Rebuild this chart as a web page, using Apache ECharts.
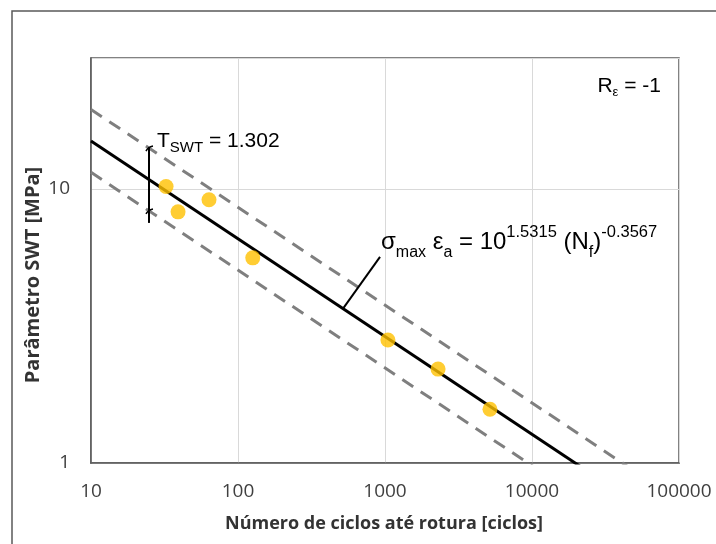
<!DOCTYPE html>
<html>
<head>
<meta charset="utf-8">
<script src="https://cdn.jsdelivr.net/npm/echarts@6/dist/echarts.min.js"></script>
<style>
  html, body { margin: 0; padding: 0; background: #fff; }
  #chart { width: 716px; height: 544px; }
</style>
</head>
<body>
<div id="chart"></div>
<script>
// Test results: cycles to failure and SWT parameter
const cycles = [32.4, 39.1, 63.5, 126, 1047, 2296, 5176];
const swt = [10.2, 8.24, 9.12, 5.60, 2.81, 2.20, 1.57];

// Power-law fit  SWT = 10^logA * Nf^expB, with scatter band factor T
const logA = 1.5315;
const expB = -0.3567;
const scatterT = 1.302;

// Axis ranges
const xRange = [10, 100000];
const yRange = [1, 30];

// Scatter-bar position (cycles) and its extent (MPa)
const barCycles = [24.8];
const barSpan = [14.2, 7.51];

// Leader line of the equation label: start cycles on the fit line, end point
const leaderStart = [518];
const leaderEnd = [925, 5.65];

const fit = n => Math.pow(10, logA) * Math.pow(n, expB);
const lineEnds = xRange;

const fitLine = lineEnds.map(n => [n, fit(n)]);
const upperBand = lineEnds.map(n => [n, fit(n) * scatterT]);
const lowerBand = lineEnds.map(n => [n, fit(n) / scatterT]);
const points = cycles.map((c, i) => [c, swt[i]]);

const AX = '#595959';
const LABEL_FONT = 'Open Sans';
const TEXT_FONT = 'Liberation Sans';

const chart = echarts.init(document.getElementById('chart'), null, { renderer: 'canvas' });

const option = {
  animation: false,
  backgroundColor: '#fff',
  grid: {
    left: 91, right: 37, top: 58, bottom: 81,
    show: true, borderColor: AX, borderWidth: 1.5
  },
  xAxis: {
    type: 'log', logBase: 10, min: xRange[0], max: xRange[1],
    axisLine: { show: true, lineStyle: { color: AX, width: 1.5 } },
    axisTick: { show: false },
    splitLine: { show: true, lineStyle: { color: '#d9d9d9', width: 1 } },
    axisLabel: {
      margin: 19, color: '#404040', fontFamily: LABEL_FONT, fontSize: 19,
      formatter: v => String(Math.round(v))
    }
  },
  yAxis: {
    type: 'log', logBase: 10, min: yRange[0], max: yRange[1],
    axisLine: { show: true, lineStyle: { color: AX, width: 1.5 } },
    axisTick: { show: false },
    splitLine: { show: true, lineStyle: { color: '#d9d9d9', width: 1 } },
    axisLabel: {
      margin: 21, color: '#404040', fontFamily: LABEL_FONT, fontSize: 19,
      showMaxLabel: false,
      formatter: v => {
        const l = Math.log10(v);
        return Math.abs(l - Math.round(l)) < 1e-6 ? String(Math.round(v)) : '';
      }
    }
  },
  series: [
    {
      type: 'line', data: upperBand, symbol: 'none', clip: true, z: 2,
      lineStyle: { color: '#7f7f7f', width: 3, type: [13, 9] }
    },
    {
      type: 'line', data: lowerBand, symbol: 'none', clip: true, z: 2,
      lineStyle: { color: '#7f7f7f', width: 3, type: [13, 9] }
    },
    {
      type: 'line', data: fitLine, symbol: 'none', clip: true, z: 3,
      lineStyle: { color: '#000', width: 3 }
    },
    {
      type: 'line', data: [[barCycles[0], barSpan[0]], [barCycles[0], barSpan[1]]],
      symbol: 'none', z: 4, lineStyle: { color: '#000', width: 2 }
    },
    {
      type: 'line', data: [[leaderStart[0], fit(leaderStart[0])], leaderEnd],
      symbol: 'none', z: 4, lineStyle: { color: '#000', width: 2 }
    },
    {
      type: 'scatter', data: points, symbol: 'circle', symbolSize: 15, z: 5,
      itemStyle: { color: '#FFC000' }
    }
  ]
};
chart.setOption(option);

// Caps on the scatter bar where it meets the band lines, plus text annotations
const capTop = chart.convertToPixel({ gridIndex: 0 }, [barCycles[0], fit(barCycles[0]) * scatterT]);
const capBot = chart.convertToPixel({ gridIndex: 0 }, [barCycles[0], fit(barCycles[0]) / scatterT]);
const cap = p => ({
  type: 'bezierCurve', z: 10,
  shape: { x1: p[0] - 3, y1: p[1] + 3, x2: p[0] + 4, y2: p[1] - 2, cpx1: p[0] - 1, cpy1: p[1] - 1 },
  style: { stroke: '#000', lineWidth: 1.5, fill: 'none' }
});

chart.setOption({
  graphic: [
    {
      type: 'rect', z: -1, silent: true,
      shape: { x: 12, y: 11, width: 760, height: 600 },
      style: { fill: 'none', stroke: AX, lineWidth: 1.5 }
    },
    cap(capTop),
    cap(capBot),
    {
      type: 'text', x: 661, y: 86, z: 10,
      style: {
        text: '{m|R}{s|ε}{m| = -1}', align: 'right', verticalAlign: 'middle',
        rich: {
          m: { fontFamily: TEXT_FONT, fontSize: 21, color: '#000', lineHeight: 26 },
          s: { fontFamily: TEXT_FONT, fontSize: 13, color: '#000', lineHeight: 16, verticalAlign: 'bottom' }
        }
      }
    },
    {
      type: 'text', x: 157, y: 141, z: 10,
      style: {
        text: '{m|T}{s|SWT}{m| = 1.302}', align: 'left', verticalAlign: 'middle',
        rich: {
          m: { fontFamily: TEXT_FONT, fontSize: 21, color: '#000', lineHeight: 28 },
          s: { fontFamily: TEXT_FONT, fontSize: 15, color: '#000', lineHeight: 18, verticalAlign: 'bottom' }
        }
      }
    },
    {
      type: 'text', x: 381, y: 242, z: 10,
      style: {
        text: '{m|σ}{s|max}{m| ε}{s|a}{m| = 10}{p|1.5315}{m| (N}{s|f}{m|)}{p|-0.3567}',
        align: 'left', verticalAlign: 'middle',
        rich: {
          m: { fontFamily: TEXT_FONT, fontSize: 24, color: '#000', lineHeight: 37 },
          s: { fontFamily: TEXT_FONT, fontSize: 16, color: '#000', lineHeight: 23, verticalAlign: 'bottom' },
          p: { fontFamily: TEXT_FONT, fontSize: 16.5, color: '#000', lineHeight: 16, verticalAlign: 'top' }
        }
      }
    },
    {
      type: 'text', x: 384, y: 524, z: 10,
      style: {
        text: 'Número de ciclos até rotura [ciclos]', align: 'center', verticalAlign: 'middle',
        fontFamily: LABEL_FONT, fontWeight: 'bold', fontSize: 18, fill: '#333'
      }
    },
    {
      type: 'text', x: 33, y: 275, rotation: Math.PI / 2, z: 10,
      style: {
        text: 'Parâmetro SWT [MPa]', align: 'center', verticalAlign: 'middle',
        fontFamily: LABEL_FONT, fontWeight: 'bold', fontSize: 20, fill: '#333'
      }
    }
  ]
});
</script>
</body>
</html>
